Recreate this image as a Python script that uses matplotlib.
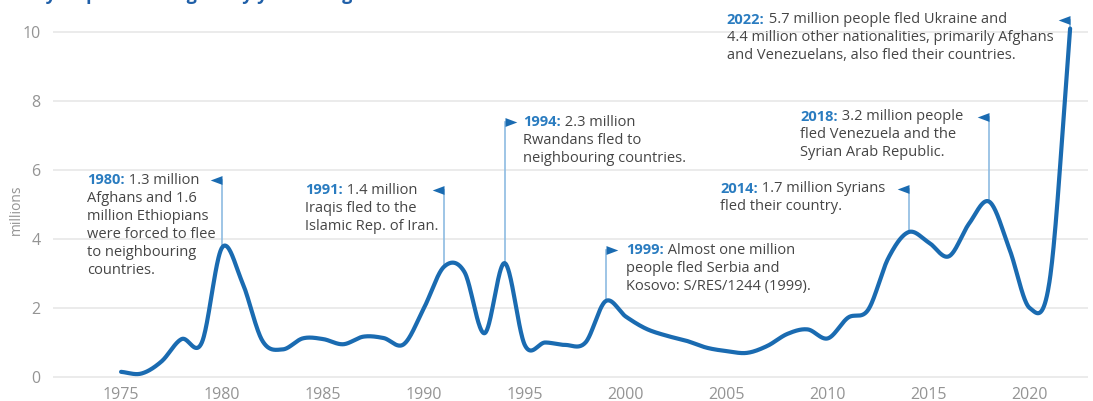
import numpy as np
import matplotlib
matplotlib.use("Agg")
import matplotlib.pyplot as plt

plt.rcParams['font.family'] = ['Open Sans', 'DejaVu Sans']

# Refugees newly displaced per year (millions)
years = list(range(1975, 2023))
refugees = [0.15, 0.10, 0.45, 1.10, 1.00, 3.75, 2.75, 1.05, 0.80, 1.12,
            1.10, 0.95, 1.17, 1.13, 0.95, 2.00, 3.20, 3.05, 1.27, 3.30,
            0.92, 1.00, 0.93, 1.00, 2.20, 1.75, 1.40, 1.20, 1.05, 0.85,
            0.75, 0.70, 0.90, 1.25, 1.38, 1.12, 1.72, 1.95, 3.45, 4.20,
            3.90, 3.50, 4.45, 5.08, 3.70, 2.00, 2.85, 10.10]

x_ticks = [1975, 1980, 1985, 1990, 1995, 2000, 2005, 2010, 2015, 2020]
y_ticks = [0, 2, 4, 6, 8, 10]

# Annotated events: (year, label, first line rest, further lines)
events = [
    (1980, "1980:", " 1.3 million",
     ["Afghans and 1.6", "million Ethiopians", "were forced to flee",
      "to neighbouring", "countries."]),
    (1991, "1991:", " 1.4 million",
     ["Iraqis fled to the", "Islamic Rep. of Iran."]),
    (1994, "1994:", " 2.3 million",
     ["Rwandans fled to", "neighbouring countries."]),
    (1999, "1999:", " Almost one million",
     ["people fled Serbia and", "Kosovo: S/RES/1244 (1999)."]),
    (2014, "2014:", " 1.7 million Syrians",
     ["fled their country."]),
    (2018, "2018:", " 3.2 million people",
     ["fled Venezuela and the", "Syrian Arab Republic."]),
    (2022, "2022:", " 5.7 million people fled Ukraine and",
     ["4.4 million other nationalities, primarily Afghans",
      "and Venezuelans, also fled their countries."]),
]

# Layout for each callout: flag height (data units), flag side, text x (year)
callout_layout = {
    1980: dict(top=5.71, side="left", tx=1973.31),
    1991: dict(top=5.42, side="left", tx=1984.10),
    1994: dict(top=7.39, side="right", tx=1994.91),
    1999: dict(top=3.68, side="right", tx=2000.01),
    2014: dict(top=5.45, side="left", tx=2004.66),
    2018: dict(top=7.54, side="left", tx=2008.62),
    2022: dict(top=10.36, side="left", tx=2005.00),
}

BLUE = "#1a6bb1"
LABEL_BLUE = "#2a7cc0"
STEM = "#8dbbe2"
TEXT = "#454545"
TICK = "#949494"
GRID = "#e6e6e6"


def catmull_rom(x, y, n_per=40):
    """Smooth curve through every (x, y) point using cubic Hermite segments."""
    x = np.asarray(x, float)
    y = np.asarray(y, float)
    n = len(x)
    m = np.empty(n)
    m[1:-1] = (y[2:] - y[:-2]) / (x[2:] - x[:-2])
    m[0] = (y[1] - y[0]) / (x[1] - x[0])
    m[-1] = (y[-1] - y[-2]) / (x[-1] - x[-2])
    xs, ys = [], []
    for i in range(n - 1):
        h = x[i + 1] - x[i]
        t = np.linspace(0, 1, n_per, endpoint=(i == n - 2))
        h00 = 2 * t ** 3 - 3 * t ** 2 + 1
        h10 = t ** 3 - 2 * t ** 2 + t
        h01 = -2 * t ** 3 + 3 * t ** 2
        h11 = t ** 3 - t ** 2
        xs.append(x[i] + t * h)
        ys.append(h00 * y[i] + h10 * h * m[i] + h01 * y[i + 1] + h11 * h * m[i + 1])
    return np.concatenate(xs), np.concatenate(ys)


fig = plt.figure(figsize=(10.93, 4.01), dpi=100)
ax = fig.add_axes([0.0485, 0.0340, 0.9470, 0.9292])
ax.set_xlim(1971.63, 2022.89)
ax.set_ylim(-0.3, 10.5)

for s in ax.spines.values():
    s.set_visible(False)
ax.set_yticks(y_ticks)
ax.set_yticklabels([str(v) for v in y_ticks])
ax.set_xticks(x_ticks)
ax.set_xticklabels([str(v) for v in x_ticks])
ax.tick_params(axis="both", length=0, colors=TICK, labelsize=11.5)
ax.tick_params(axis="y", pad=9)
ax.tick_params(axis="x", pad=0)
ax.yaxis.grid(True, color=GRID, lw=1.1)
ax.set_axisbelow(True)
ax.set_ylabel("millions", color=TICK, fontsize=10)
ax.yaxis.set_label_coords(-0.028, 0.476)

# Smoothed series
sx, sy = catmull_rom(years, refugees)
ax.plot(sx, sy, color=BLUE, lw=3.0, solid_capstyle="round", zorder=3,
        clip_on=False)

value_of = dict(zip(years, refugees))
flag_left = [(0, 1), (0, -1), (-2.67, 0), (0, 1)]
flag_right = [(0, 1), (0, -1), (2.67, 0), (0, 1)]
line_gap_pt = 18 * 0.72
fs = 10.5

for year, label, rest, more in events:
    lay = callout_layout[year]
    top = lay["top"]
    ax.plot([year, year], [value_of[year], top], color=STEM, lw=1.2,
            zorder=2)
    ax.plot([year], [top], marker=flag_left if lay["side"] == "left" else flag_right,
            markersize=17, color=BLUE, markeredgewidth=0, zorder=4)
    lab = ax.text(lay["tx"], top, label, color=LABEL_BLUE, fontsize=fs,
                  fontweight="bold", va="center", ha="left")
    ax.annotate(rest, xy=(1, 0.5), xycoords=lab, va="center", ha="left",
                color=TEXT, fontsize=fs)
    for i, line in enumerate(more, start=1):
        ax.annotate(line, xy=(lay["tx"], top), xycoords="data",
                    xytext=(0, -i * line_gap_pt), textcoords="offset points",
                    va="center", ha="left", color=TEXT, fontsize=fs)

# Heading sitting just above the top edge
fig.text(0.0, 1.0 - 4 / 401, "Newly displaced refugees by year of flight",
         color="#1f5fa8", fontsize=13, fontweight="bold", ha="left",
         va="bottom")

fig.savefig("out.png", dpi=100)
